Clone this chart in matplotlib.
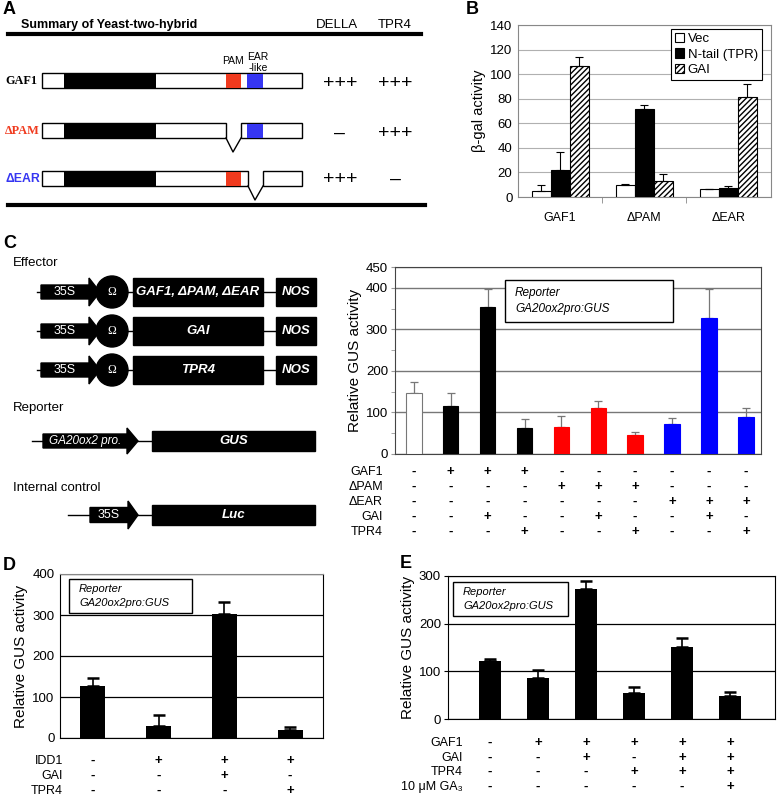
import matplotlib
matplotlib.use('Agg')
import matplotlib.pyplot as plt
from matplotlib.patches import Rectangle, Polygon, Circle, Patch
from matplotlib.transforms import blended_transform_factory

plt.rcParams['font.family'] = ['Liberation Sans', 'DejaVu Sans']

W, H = 777, 798

# ---- A: yeast two-hybrid summary ----
a_constructs = ['GAF1', 'ΔPAM', 'ΔEAR']
a_della = ['+++', '–', '+++']
a_tpr4 = ['+++', '+++', '–']

# ---- B: beta-gal activity ----
b_groups = ['GAF1', 'ΔPAM', 'ΔEAR']
b_vec = [5, 10, 6.5]
b_vec_err = [5, 0.5, 0.3]
b_ntail = [22, 71.5, 7.6]
b_ntail_err = [15, 3.5, 1.4]
b_gai = [106.5, 13.3, 81.6]
b_gai_err = [7.5, 5.4, 10.4]

# ---- C: transient assay ----
c_values = [147, 116, 354, 63, 65, 111, 46, 72, 328, 89]
c_err = [26, 31, 44, 21, 27, 17, 7, 15, 70, 22]
c_colors = ['white', 'black', 'black', 'black', 'red', 'red', 'red', 'blue', 'blue', 'blue']
c_rows = ['GAF1', 'ΔPAM', 'ΔEAR', 'GAI', 'TPR4']
c_signs = ['-+++------',
           '----+++---',
           '-------+++',
           '--+--+--+-',
           '---+--+--+']

# ---- D ----
d_values = [127, 29, 302, 19]
d_err = [19, 27, 30, 8]
d_rows = ['IDD1', 'GAI', 'TPR4']
d_signs = ['-+++', '--+-', '---+']

# ---- E ----
e_values = [122, 86, 273, 54, 151, 48]
e_err = [4, 17, 16, 13, 19, 9]
e_rows = ['GAF1', 'GAI', 'TPR4', '10 μM GA₃']
e_signs = ['-+++++', '--+-++', '---+++', '-----+']

RED = '#f03a1e'
BLUE = '#3636f2'

fig = plt.figure(figsize=(W / 100, H / 100), dpi=100)
base = fig.add_axes([0, 0, 1, 1])
base.set_xlim(0, W)
base.set_ylim(H, 0)
base.axis('off')


def px_axes(l, t, r, b):
    return fig.add_axes([l / W, 1 - b / H, (r - l) / W, (b - t) / H])


def panel_label(x, y, s):
    base.text(x, y, s, fontsize=13, fontweight='bold', va='center', ha='left')


# ================= A =================
panel_label(3, 9, 'A')
base.text(21, 25, 'Summary of Yeast-two-hybrid', fontsize=9, fontweight='bold', va='center')
base.text(337, 25, 'DELLA', fontsize=9.5, ha='center', va='center')
base.text(395, 25, 'TPR4', fontsize=9.5, ha='center', va='center')
base.plot([8, 421], [34, 34], color='k', lw=3)
base.plot([8, 425], [205, 205], color='k', lw=3)


def box(x0, x1, y0, y1, fc='white', lw=1):
    base.add_patch(Rectangle((x0, y0), x1 - x0, y1 - y0, facecolor=fc, edgecolor='k', lw=lw))


def fill(x0, x1, y0, y1, c):
    base.add_patch(Rectangle((x0, y0 + 0.5), x1 - x0, y1 - y0 - 1, facecolor=c, edgecolor='none'))


# GAF1
y0, y1 = 73, 88
box(42, 302, y0, y1)
fill(64, 156, y0, y1, 'k')
fill(226, 241, y0, y1, RED)
fill(247, 263, y0, y1, BLUE)
base.text(233, 61, 'PAM', fontsize=7.5, ha='center', va='center')
base.text(258, 57, 'EAR', fontsize=7.5, ha='center', va='center')
base.text(258, 68, '-like', fontsize=7.5, ha='center', va='center')
# dPAM
y0, y1 = 123, 138
box(42, 226, y0, y1)
box(241, 302, y0, y1)
fill(64, 156, y0, y1, 'k')
fill(247, 263, y0, y1, BLUE)
base.plot([226, 233, 241], [138, 152, 138], color='k', lw=1)
# dEAR
y0, y1 = 171, 186
box(42, 248, y0, y1)
box(263, 302, y0, y1)
fill(64, 156, y0, y1, 'k')
fill(226, 241, y0, y1, RED)
base.plot([248, 255, 263], [186, 200, 186], color='k', lw=1)

row_y = [81, 131, 179]
label_style = [dict(color='k', family='Liberation Serif'),
               dict(color=RED, family='Liberation Serif'),
               dict(color=BLUE, family='Liberation Sans')]
sign_y = [83, 133, 179]
for name, yy, sy, st, d, t in zip(a_constructs, row_y, sign_y, label_style, a_della, a_tpr4):
    base.text(5, yy, name, fontsize=8.8, fontweight='bold', va='center', **st)
    base.text(340, sy, d, fontsize=14, ha='center', va='center')
    base.text(395, sy, t, fontsize=14, ha='center', va='center')

# ================= B =================
panel_label(466, 9, 'B')
axB = px_axes(518, 25, 771, 197)
xs = list(range(len(b_groups)))
w = 0.226
axB.bar([x - w for x in xs], b_vec, w, color='white', edgecolor='k', lw=0.8, zorder=3)
axB.bar(xs, b_ntail, w, color='black', edgecolor='k', lw=0.8, zorder=3)
axB.bar([x + w for x in xs], b_gai, w, color='white', edgecolor='k', hatch='//////', lw=0.8, zorder=3)
for off, vals, err in [(-w, b_vec, b_vec_err), (0, b_ntail, b_ntail_err), (w, b_gai, b_gai_err)]:
    axB.errorbar([x + off for x in xs], vals, yerr=[[0] * len(vals), err], fmt='none',
                 ecolor='k', elinewidth=0.8, capsize=3, capthick=0.8, zorder=4)
axB.set_xlim(-0.5, 2.51)
axB.set_ylim(0, 140)
axB.set_yticks(range(0, 141, 20))
axB.yaxis.grid(True, color='#b0b0b0', lw=0.8)
axB.set_axisbelow(True)
axB.set_xticks(xs)
axB.set_xticklabels(b_groups, fontsize=9)
axB.set_xticks([0.5, 1.5], minor=True)
axB.tick_params(axis='x', which='major', length=0, pad=11)
axB.tick_params(axis='x', which='minor', length=4, color='#888888', direction='out')
axB.tick_params(axis='y', length=0, labelsize=9.5, pad=4)
for sp in axB.spines.values():
    sp.set_color('#888888')
axB.set_ylabel('β-gal activity', fontsize=10.5, labelpad=3)
handles = [Patch(facecolor='white', edgecolor='k', lw=0.8),
           Patch(facecolor='black', edgecolor='k', lw=0.8),
           Patch(facecolor='white', edgecolor='k', hatch='//////', lw=0.8)]
leg = axB.legend(handles, ['Vec', 'N-tail (TPR)', 'GAI'], loc='upper right',
                 bbox_to_anchor=(0.964, 0.977), borderaxespad=0, fontsize=9.5,
                 handlelength=0.7, handleheight=0.7, handletextpad=0.3,
                 labelspacing=0.25, borderpad=0.3, fancybox=False, framealpha=1)
leg.get_frame().set_edgecolor('k')
leg.get_frame().set_linewidth(0.8)

# ================= C diagrams =================
panel_label(3, 244, 'C')
base.text(13, 263, 'Effector', fontsize=9.5, va='center')
base.text(13, 408, 'Reporter', fontsize=9.5, va='center')
base.text(13, 488, 'Internal control', fontsize=9.5, va='center')


def promoter(x0, x1, tip, yc, h, hh, text, italic=False):
    pts = [(x0, yc - h), (x1, yc - h), (x1, yc - hh), (tip, yc), (x1, yc + hh), (x1, yc + h), (x0, yc + h)]
    base.add_patch(Polygon(pts, closed=True, facecolor='k', edgecolor='k', zorder=3))
    base.text((x0 + x1) / 2, yc, text, color='white', fontsize=9 if not italic else 8.5,
              style='italic' if italic else 'normal', ha='center', va='center', zorder=4)


def gene(x0, x1, y0, y1, text, fs=9.5):
    base.add_patch(Rectangle((x0, y0), x1 - x0, y1 - y0, facecolor='k', edgecolor='k', zorder=3))
    base.text((x0 + x1) / 2, (y0 + y1) / 2, text, color='white', fontsize=fs, fontweight='bold',
              style='italic', ha='center', va='center', zorder=4)


eff_rows = [(292, 'GAF1, ΔPAM, ΔEAR'), (331, 'GAI'), (370, 'TPR4')]
for yc, name in eff_rows:
    base.plot([37, 276], [yc, yc], color='k', lw=1, zorder=2)
    promoter(41, 89, 100, yc, 7, 14, '35S')
    base.add_patch(Circle((112, yc), 16, facecolor='k', edgecolor='k', zorder=3))
    base.text(112, yc, 'Ω', color='white', fontsize=8.5, family='Liberation Serif',
              ha='center', va='center', zorder=4)
    gene(133, 263, yc - 14, yc + 14, name, fs=9.5)
    gene(276, 316, yc - 14, yc + 14, 'NOS', fs=9.5)

base.plot([32, 152], [441, 441], color='k', lw=1, zorder=2)
promoter(43, 127, 138, 441, 7, 13, 'GA20ox2 pro.', italic=True)
gene(152, 315, 431, 451, 'GUS')

base.plot([68, 152], [515, 515], color='k', lw=1, zorder=2)
promoter(90, 128, 138, 515, 7.5, 14, '35S')
gene(152, 315, 505, 525, 'Luc')


def reporter_box(ax, x0, y0, x1, y1, fs=8.5):
    ax.add_patch(Rectangle((x0, y0), x1 - x0, y1 - y0, facecolor='white', edgecolor='k',
                           lw=1, transform=base.transData, zorder=5, clip_on=False))
    ax.text(x0 + 10, y0 + (y1 - y0) * 0.3, 'Reporter', style='italic', fontsize=fs,
            va='center', transform=base.transData, zorder=6)
    ax.text(x0 + 10, y0 + (y1 - y0) * 0.7, 'GA20ox2pro:GUS', style='italic', fontsize=fs,
            va='center', transform=base.transData, zorder=6)


def sign_table(ax, rows, signs, label_x, row_ys, fs=9):
    tr = blended_transform_factory(ax.transData, base.transData)
    for name, s, yy in zip(rows, signs, row_ys):
        base.text(label_x, yy, name, fontsize=fs, ha='right', va='center')
        for i, ch in enumerate(s):
            ax.text(i, yy, '+' if ch == '+' else '-', fontsize=fs + 0.5, fontweight='bold',
                    ha='center', va='center', transform=tr, clip_on=False)


# ================= C chart =================
axC = px_axes(395, 267, 761, 454)
xc = list(range(len(c_values)))
edge = ['#777777' if c == 'white' else c for c in c_colors]
axC.bar(xc, c_values, 0.42, color=c_colors, edgecolor=edge, lw=0.8, zorder=3)
axC.errorbar(xc, c_values, yerr=[[0] * len(c_values), c_err], fmt='none', ecolor='#777777',
             elinewidth=0.9, capsize=3, capthick=0.9, zorder=2.5)
axC.set_xlim(-0.51, 9.41)
axC.set_ylim(0, 450)
axC.set_yticks([0, 100, 200, 300, 400, 450])
axC.set_yticks([50, 150, 250, 350], minor=True)
axC.yaxis.grid(True, which='major', color='#777777', lw=1)
axC.set_axisbelow(True)
axC.set_xticks([])
axC.tick_params(axis='y', which='both', length=3, color='#999999', labelsize=9.5, pad=2)
for sp in axC.spines.values():
    sp.set_color('#444444')
axC.set_ylabel('Relative GUS activity', fontsize=11, labelpad=3)
reporter_box(axC, 505, 280, 673, 322)
sign_table(axC, c_rows, c_signs, 383, [472, 487, 502, 517, 532])

# ================= D =================
panel_label(3, 566, 'D')
axD = px_axes(60, 574, 323, 738)
xd = list(range(len(d_values)))
axD.bar(xd, d_values, 0.38, color='black', zorder=3)
axD.errorbar(xd, d_values, yerr=[[0] * len(d_values), d_err], fmt='none', ecolor='k',
             elinewidth=1.2, capsize=4, capthick=1.8, zorder=2.5)
axD.set_xlim(-0.5, 3.5)
axD.set_ylim(0, 400)
axD.set_yticks(range(0, 401, 100))
axD.yaxis.grid(True, color='k', lw=0.9)
axD.set_axisbelow(True)
axD.set_xticks([])
axD.tick_params(axis='y', length=0, labelsize=9.5, pad=4)
axD.spines['top'].set_color('#888888')
axD.set_ylabel('Relative GUS activity', fontsize=11, labelpad=3)
reporter_box(axD, 69, 579, 192, 613, fs=8)
sign_table(axD, d_rows, d_signs, 63, [761, 776, 791])

# ================= E =================
panel_label(400, 563, 'E')
axE = px_axes(448, 576, 775, 719)
xe = list(range(len(e_values)))
axE.bar(xe, e_values, 0.46, color='black', zorder=3)
axE.errorbar(xe, e_values, yerr=[[0] * len(e_values), e_err], fmt='none', ecolor='k',
             elinewidth=1.2, capsize=4, capthick=1.8, zorder=2.5)
axE.set_xlim(-0.875, 5.94)
axE.set_ylim(0, 300)
axE.set_yticks(range(0, 301, 100))
axE.yaxis.grid(True, color='k', lw=0.9)
axE.set_axisbelow(True)
axE.set_xticks([])
axE.tick_params(axis='y', length=3, labelsize=9.5, pad=2)
axE.set_ylabel('Relative GUS activity', fontsize=11, labelpad=3)
reporter_box(axE, 453, 582, 568, 616, fs=8)
sign_table(axE, e_rows, e_signs, 463, [743, 758, 772, 787])

fig.savefig('out.png', dpi=100)
